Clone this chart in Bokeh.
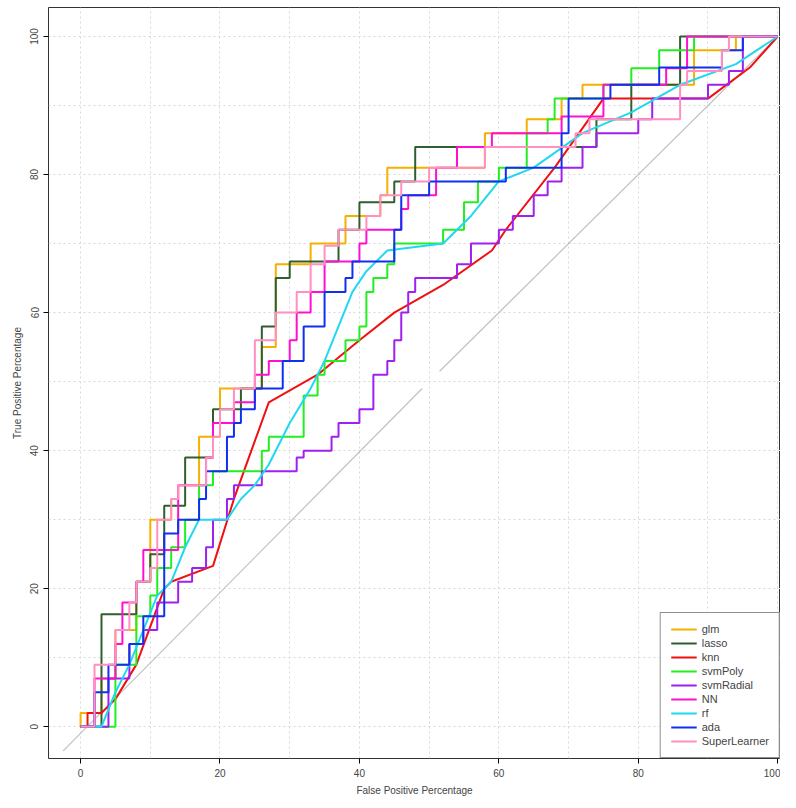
from bokeh.plotting import figure
from bokeh.models import Range1d, Legend, LegendItem, SingleIntervalTicker
from bokeh.embed import file_html
from bokeh.resources import INLINE

# ROC curves (false positive %, true positive %)
glm_x = [0, 3, 5, 8, 10, 13, 14, 17, 20, 26, 28, 33, 38, 39, 43, 44, 51, 58, 64, 69, 72, 80, 88, 88, 94, 94, 100]
glm_y = [0, 2, 7, 14, 21, 30, 33, 35, 42, 49, 55, 67, 70, 74, 74, 77, 81, 81, 86, 88, 91, 93, 93, 98, 98, 100, 100]
lasso_x = [0, 3, 3, 3.5, 5, 8, 10, 12, 15, 19, 23, 26, 28, 30, 32, 37, 40, 45, 48, 54, 60, 74, 75, 79, 80, 86, 87, 100]
lasso_y = [0, 0, 14, 16.3, 16.3, 16.3, 21, 25, 32, 39, 46, 49, 58, 65, 67.4, 67.4, 72, 76, 79, 84, 84, 84, 88, 88,
           93, 93, 100, 100]
knn_x = [0, 1, 1, 3, 5, 8, 12, 13, 19, 22, 27, 34, 40, 45, 52, 59, 61, 68, 75, 90, 96, 100]
knn_y = [0, 0, 2, 2, 4, 9, 20, 21, 23.3, 33, 47, 51, 56, 60, 64, 69, 72, 81, 91, 91, 95.5, 100]
svmpoly_x = [0, 5, 5, 8, 10, 11, 13, 15, 17, 19, 22, 26, 27, 28, 32, 32, 34, 35, 36, 38, 40, 41, 42, 44, 45, 45,
             52, 55, 57, 60, 64, 67, 68, 68, 75, 79, 80, 83, 84, 88, 88, 100]
svmpoly_y = [0, 0, 4, 9, 16, 19, 23, 26, 30, 35, 37, 37, 40, 42, 42, 44, 48, 51, 53, 53, 56, 58, 63, 65, 67, 70,
             70, 72, 76, 79, 81, 86, 88, 91, 91, 93, 95.4, 95.4, 98, 98, 100, 100]
svmradial_x = [0, 4, 4, 7, 9, 11, 14, 16, 18, 19, 21, 22, 24, 26, 28, 31, 32, 36, 37, 40, 42, 44, 45, 46, 47, 48,
               50, 54, 56, 60, 62, 65, 67, 69, 72, 74, 78, 80, 82, 90, 93, 95, 100]
svmradial_y = [0, 0, 3, 7, 12, 14, 18, 21, 23, 26, 30, 33, 35, 35, 37, 37, 39, 40, 42, 44, 46, 51, 53, 56, 60, 63,
               65, 65, 67, 70, 72, 74, 77, 79, 81, 84, 86, 86, 88, 91, 93, 95, 100]
nn_x = [0, 2, 2, 5, 6, 8, 9, 10, 14, 14, 18, 19, 22, 25, 27, 30, 31, 33, 35, 36, 40, 41, 46, 47, 51, 54, 59, 60,
        69, 72, 75, 76, 84, 86, 87, 88, 100]
nn_y = [0, 0, 2, 7, 12, 18, 21, 25.6, 25.6, 30, 35, 39, 44, 47, 51, 53, 56, 60, 63, 67.4, 67.4, 70, 72, 75, 77,
        81, 84, 86, 86, 88.4, 88.4, 93, 93, 95.4, 95.4, 100, 100]
rf_x = [0, 3, 5, 7, 9, 11, 13, 15, 17, 21, 23, 25, 27, 30, 33, 35, 37, 39, 41, 44, 52, 56, 60, 65, 72, 79, 86, 94, 100]
rf_y = [0, 0, 5, 9, 14, 19, 21, 26, 30, 30, 33, 35, 38, 44, 49, 53, 58, 63, 66, 69, 70, 74, 79, 81, 86, 89, 93, 96, 100]
ada_x = [0, 2, 2, 4, 7, 9, 12, 12, 14, 17, 18, 21, 22, 23, 25, 25, 29, 32, 35, 38, 39, 40, 45, 46, 50, 52, 61, 62,
         69, 70, 76, 83, 88, 92, 95, 95, 100]
ada_y = [0, 0, 2, 5, 9, 12, 16, 25, 28, 30, 33, 37, 42, 44, 46, 48, 49, 53, 58, 63, 65, 67.4, 67.4, 72, 77, 79, 79,
         81, 81, 86, 91, 93, 95.5, 95.5, 98, 100, 100]
sl_x = [0, 2, 2, 5, 7, 8, 10, 11, 13, 14, 18, 19, 20, 22, 25, 28, 31, 33, 35, 37, 41, 43, 46, 50, 52, 58, 62, 71,
        73, 86, 87, 92, 93, 96, 100]
sl_y = [0, 0, 4, 9, 14, 18, 21, 23, 30, 33, 35, 39, 42, 46, 49, 56, 60, 63, 67, 69.7, 72, 74, 77, 79, 81, 81, 84, 84,
        86, 88, 93, 95, 98, 100, 100]

names = ["glm", "lasso", "knn", "svmPoly", "svmRadial", "NN", "rf", "ada", "SuperLearner"]
colors = ["#F5B000", "#2F5F2F", "#F01010", "#22EE22", "#A020F0", "#FF10D0", "#20D8F0", "#1030F0", "#FF90C0"]
curves = [(glm_x, glm_y), (lasso_x, lasso_y), (knn_x, knn_y), (svmpoly_x, svmpoly_y), (svmradial_x, svmradial_y),
          (nn_x, nn_y), (rf_x, rf_y), (ada_x, ada_y), (sl_x, sl_y)]
smooth = {"knn", "rf"}


def stairs(xs, ys):
    sx, sy = [xs[0]], [ys[0]]
    for i in range(1, len(xs)):
        sx.append(sx[-1]); sy.append(ys[i])
        sx.append(xs[i]); sy.append(ys[i])
    return sx, sy


p = figure(width=780, height=798, output_backend="svg", toolbar_location=None,
           x_range=Range1d(-4.6, 100.4), y_range=Range1d(-4.6, 104.2),
           min_border_left=48, min_border_bottom=34, min_border_top=7, min_border_right=0)
p.outline_line_color = "#333333"
p.outline_line_width = 1
p.background_fill_color = "white"
p.border_fill_color = "white"

for ax in (p.xaxis, p.yaxis):
    ax.ticker = SingleIntervalTicker(interval=20)
    ax.axis_line_color = None
    ax.minor_tick_line_color = None
    ax.major_tick_in = 0
    ax.major_tick_out = 5
    ax.major_label_text_font = "Liberation Sans"
    ax.major_label_text_font_size = "10px"
    ax.axis_label_text_font = "Liberation Sans"
    ax.axis_label_text_font_size = "10px"
    ax.axis_label_text_font_style = "normal"
p.yaxis.major_label_orientation = "vertical"
p.xaxis.axis_label = "False Positive Percentage"
p.yaxis.axis_label = "True Positive Percentage"

for g in (p.xgrid, p.ygrid):
    g.ticker = SingleIntervalTicker(interval=10)
    g.grid_line_color = "#D8D8D8"
    g.grid_line_dash = "2 3"

# reference diagonal (drawn in two pieces in the original)
p.line([-2.5, 49], [-3.5, 49], line_color="#C0C0C0", line_width=1.2)
p.line([51.5, 100], [51.5, 100], line_color="#C0C0C0", line_width=1.2)

items = []
for name, col, (xs, ys) in zip(names, colors, curves):
    if name in smooth:
        lx, ly = xs, ys
    else:
        lx, ly = stairs(xs, ys)
    r = p.line(lx, ly, line_color=col, line_width=2)
    items.append(LegendItem(label=name, renderers=[r]))

legend = Legend(items=items, location="bottom_right", border_line_color="#222222",
                label_text_font="Liberation Sans", label_text_font_size="11px",
                glyph_width=26, glyph_height=12, spacing=2, padding=10,
                label_height=12, margin=0, background_fill_alpha=1)
p.add_layout(legend)

open("out.html", "w").write(file_html(p, INLINE))
